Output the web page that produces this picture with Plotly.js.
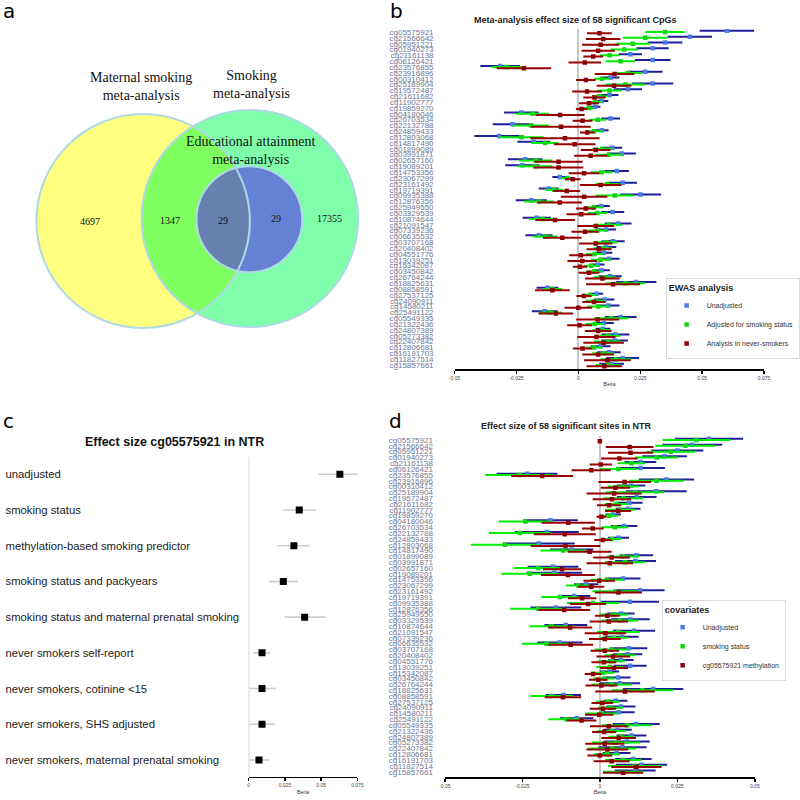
<!DOCTYPE html>
<html><head><meta charset="utf-8">
<script src="https://cdn.plot.ly/plotly-3.0.1.min.js"></script>
<style>html,body{margin:0;padding:0;background:#fff}#chart{width:800px;height:800px}</style>
</head><body><div id="chart"></div>
<script>
// ---------- data ----------
const cpgs = ["cg05575921","cg21566642","cg05951221","cg01940273","cg21161138","cg06126421","cg23576855","cg23916896","cg00310412","cg25189904",
"cg19572487","cg21611682","cg11902777","cg19859270","cg04180046","cg26703534","cg22132788","cg24859433","cg12803068","cg14817490",
"cg01899089","cg03991871","cg02657160","cg19089201","cg14753356","cg23067299","cg23161492","cg19719391","cg09935388","cg12876356",
"cg25949550","cg03329539","cg10874644","cg21091547","cg07339236","cg06635532","cg03707168","cg20408402","cg04551776","cg13039251",
"cg15342087","cg03450842","cg26764244","cg18825631","cg08858591","cg27537125","cg24090911","cg14580211","cg25491122","cg05549335",
"cg21322436","cg24807389","cg05273382","cg22407842","cg12806681","cg16191703","cg11827514","cg15857661"];

// panel b: meta-analysis (beta, half-width of 95% CI)
const bUnadjBeta = [0.060,0.045,0.035,0.030,0.021,0.030,-0.0316,0.027,0.013,0.030,0.020,0.0126,0.0094,0.0067,-0.023,0.013,-0.0266,0.0095,-0.032,-0.018,0.0137,0.0175,-0.0215,-0.0226,0.0155,-0.0075,0.0179,-0.012,0.0251,-0.019,0.0093,0.0138,-0.0168,0.0161,0.0112,-0.0159,0.014,0.0113,0.0102,0.0124,0.0078,0.0093,0.0128,0.0233,-0.0125,0.0073,0.0106,0.0121,-0.0136,0.0171,0.0103,0.0099,0.015,0.0146,0.009,0.0124,0.0179,0.0134];
const bUnadjCI = [0.011,0.009,0.007,0.0065,0.0047,0.0072,0.008,0.007,0.0036,0.0083,0.0057,0.0036,0.0027,0.0022,0.007,0.0038,0.008,0.0027,0.010,0.0066,0.004,0.0057,0.007,0.0069,0.0049,0.003,0.0058,0.004,0.0083,0.0063,0.0034,0.0047,0.0057,0.0054,0.004,0.0055,0.0047,0.004,0.0035,0.0043,0.0028,0.0034,0.0047,0.0082,0.0044,0.0027,0.004,0.0045,0.0052,0.0064,0.004,0.003,0.0056,0.0054,0.004,0.0047,0.0066,0.005];
const bSmokeBeta = [0.035,0.027,0.022,0.0185,0.0126,0.017,-0.029,0.020,0.0095,0.019,0.0126,0.0085,0.007,0.0043,-0.0185,0.0078,-0.019,0.0063,-0.023,-0.0134,0.0097,0.0124,-0.0172,-0.0175,0.0094,-0.0044,0.0117,-0.0098,0.0147,-0.0159,0.0063,0.0077,-0.0145,0.0124,0.0077,-0.0134,0.0109,0.0099,0.0066,0.009,0.0052,0.0063,0.0106,0.019,-0.0105,0.0046,0.007,0.008,-0.0113,0.0133,0.0066,0.0094,0.012,0.0117,0.0063,0.01,0.0152,0.0117];
const bSmokeCI = [0.008,0.009,0.007,0.0056,0.004,0.006,0.006,0.0057,0.003,0.008,0.005,0.003,0.0025,0.002,0.0067,0.0034,0.007,0.0034,0.009,0.0054,0.004,0.0054,0.0067,0.007,0.0044,0.0027,0.0047,0.0037,0.0077,0.006,0.0034,0.004,0.0054,0.0054,0.004,0.005,0.0048,0.0038,0.0037,0.004,0.003,0.0033,0.0044,0.008,0.004,0.0027,0.004,0.0044,0.0046,0.007,0.0037,0.0037,0.005,0.0054,0.0034,0.0044,0.0063,0.0047];
const bNeverBeta = [0.0085,0.010,0.009,0.008,0.006,0.0026,-0.022,0.0146,0.003,0.0144,0.0035,0.0065,0.0043,0.0013,-0.0074,0.0017,-0.007,0.0036,-0.0054,-0.0015,0.007,0.005,-0.008,-0.008,0.0023,-0.0023,0.009,-0.0047,0.0023,-0.0075,0.003,0.0012,-0.0094,0.007,0.0027,-0.0065,0.007,0.0083,0.001,0.0016,0.0007,0.0043,0.0097,0.014,-0.0105,0.0022,0.0063,0.0,-0.0091,0.0078,0.0005,0.008,0.0073,0.0102,0.0017,0.008,0.0117,0.0105];
const bNeverCI = [0.005,0.007,0.0075,0.0067,0.004,0.0066,0.011,0.008,0.004,0.007,0.006,0.0045,0.004,0.0023,0.0099,0.004,0.012,0.003,0.014,0.0084,0.006,0.0067,0.0097,0.010,0.0062,0.0032,0.0084,0.0054,0.0094,0.009,0.004,0.006,0.008,0.0074,0.0055,0.0078,0.0067,0.005,0.0047,0.006,0.0029,0.0042,0.007,0.0109,0.007,0.003,0.0047,0.0056,0.007,0.0087,0.005,0.0054,0.0077,0.0082,0.0039,0.0064,0.0094,0.0072];

// panel d: NTR
const dUnadjBeta = [0.0352,0.0298,0.025,0.0209,0.0131,0.0131,-0.0235,0.0215,0.0101,0.0182,0.0119,0.0095,0.0091,0.0043,-0.0159,0.0078,-0.0171,0.006,-0.0197,-0.0091,0.0118,0.0115,-0.0151,-0.0147,0.0075,-0.0044,0.013,-0.0083,0.0097,-0.0142,0.0068,0.0099,-0.011,0.011,0.0071,-0.0129,0.0094,0.009,0.0068,0.0098,0.0031,0.0059,0.0065,0.0172,-0.0118,0.0051,0.0068,0.0061,-0.0075,0.0117,0.0057,0.0102,0.0087,0.0073,0.0054,0.0108,0.0134,0.0114];
const dUnadjCI = [0.011,0.0097,0.0084,0.0072,0.0051,0.0079,0.0098,0.0089,0.0046,0.0098,0.0064,0.0043,0.004,0.0025,0.0088,0.0043,0.0103,0.0034,0.0116,0.007,0.0054,0.0066,0.0082,0.009,0.0056,0.0039,0.0079,0.0052,0.0094,0.0082,0.0044,0.0062,0.0069,0.0068,0.0054,0.0073,0.0059,0.0047,0.0041,0.0053,0.0031,0.004,0.0065,0.0097,0.0057,0.0038,0.0047,0.0051,0.0054,0.0076,0.0046,0.0048,0.0074,0.0078,0.0045,0.0059,0.0083,0.0066];
const dSmokeBeta = [0.0312,0.0276,0.0229,0.0184,0.0102,0.006,-0.026,0.0183,0.0075,0.0113,0.0076,0.0054,0.0065,0.003,-0.024,0.0048,-0.0258,0.0038,-0.0306,-0.0118,0.0075,0.0081,-0.0199,-0.0226,0.0023,-0.007,0.005,-0.0129,-0.0022,-0.0199,0.0046,0.0065,-0.0156,0.006,0.0045,-0.0172,0.0038,0.0065,0.0038,0.0032,0.0011,0.0013,0.0038,0.0137,-0.0156,0.0027,0.0034,0.0005,-0.0108,0.0088,0.0038,0.0068,0.0052,0.004,0.0023,0.0075,0.0113,0.0075];
const dSmokeCI = [0.0109,0.0097,0.0078,0.0069,0.0045,0.006,0.011,0.0089,0.005,0.0094,0.0065,0.0038,0.0048,0.0028,0.0086,0.0043,0.01,0.003,0.011,0.0074,0.0052,0.0065,0.0078,0.0092,0.0053,0.0039,0.0074,0.006,0.0084,0.009,0.0046,0.0059,0.0071,0.0069,0.0047,0.008,0.0054,0.0049,0.0043,0.0043,0.0036,0.0035,0.0065,0.0099,0.0069,0.0038,0.004,0.0052,0.0058,0.0081,0.0046,0.004,0.0078,0.0078,0.0042,0.0059,0.0086,0.0065];
const dMethBeta = [0.0,0.0096,0.0099,0.0063,0.0003,-0.0028,-0.0186,0.008,0.005,0.0046,0.0039,0.003,0.0059,0.0005,-0.0102,-0.0023,-0.0113,0.001,-0.0111,-0.0033,0.0038,0.0032,-0.0122,-0.0103,-0.0002,-0.0028,0.006,-0.0057,-0.0038,-0.0115,0.0024,0.0029,-0.0096,0.0018,0.0016,-0.0094,0.0016,0.0043,0.0013,0.0046,-0.0022,-0.0005,0.0005,0.0081,-0.0119,0.0008,0.001,-0.0002,-0.0059,0.0029,0.0014,0.0061,0.0016,0.0024,0.0,0.0038,0.0118,0.0075];
const dMethCI = [0.0002,0.0077,0.0073,0.0059,0.0036,0.0063,0.01,0.0085,0.0047,0.0089,0.0062,0.0039,0.0042,0.0016,0.0086,0.0035,0.01,0.0028,0.0112,0.0071,0.0059,0.0075,0.0062,0.0087,0.0051,0.0042,0.0076,0.0046,0.0058,0.0083,0.004,0.0062,0.0071,0.0067,0.0051,0.0072,0.0046,0.0054,0.004,0.0045,0.0027,0.003,0.0051,0.0096,0.0059,0.0035,0.0043,0.0046,0.0048,0.0061,0.0039,0.0056,0.0063,0.0067,0.004,0.0058,0.0081,0.0065];

// panel c: cg05575921 in NTR
const cModels = ["unadjusted","smoking status","methylation-based smoking predictor","smoking status and packyears",
"smoking status and maternal prenatal smoking","never smokers self-report","never smokers, cotinine <15",
"never smokers, SHS adjusted","never smokers, maternal prenatal smoking"];
const cBeta = [0.0629,0.0349,0.0312,0.0239,0.0386,0.0092,0.0092,0.0092,0.0071];
const cLow  = [0.048,0.0239,0.0202,0.0142,0.0248,0.0032,0.0005,0.0005,0.0005];
const cHigh = [0.0778,0.0464,0.0422,0.034,0.0532,0.0149,0.0188,0.0184,0.0142];

// panel a: Venn counts
const vennSetNames = ["Maternal smoking<br>meta-analysis","Smoking<br>meta-analysis","Educational attainment<br>meta-analysis"];
const vennRegions = ["maternal only","maternal & smoking","all three","smoking & education","smoking only"];
const vennCounts = [4697, 1347, 29, 29, 17355];

// tick labels
const bTicks = [-0.05,-0.025,0,0.025,0.05,0.075];
const bTickText = ["-0.05","-0.025","0","0.025","0.05","0.075"];
const dTicks = [-0.05,-0.025,0,0.025,0.05];
const dTickText = ["-0.05","-0.025","0","0.025","0.05"];
const cTicks = [0,0.025,0.05,0.075];
const cTickText = ["0","0.025","0.05","0.075"];

// ---------- helpers ----------
const W = 800;
const X = p => p / W;
const Y = p => 1 - p / W;
const rows = cpgs.map((_, i) => i + 1);
const cRows = cModels.map((_, i) => i + 1);
const DODGE = 0.2;

const COL = {
  blueBar:'#1f1f99', bluePt:'#4a7de6',
  greenBar:'#00ee00', greenPt:'#12d612',
  redBar:'#990000', redPt:'#8b0000'
};

function series(xs, ci, off, name, bar, pt, xa, ya, leg) {
  return {
    type:'scatter', mode:'markers', name:name, legend:leg,
    x: xs, y: rows.map(r => r + off), xaxis: xa, yaxis: ya,
    marker:{symbol:'square', size:4.5, color:pt},
    error_x:{type:'data', symmetric:true, array:ci, visible:true, color:bar, thickness:2, width:0},
    hoverinfo:'skip'
  };
}

const traces = [
  series(bUnadjBeta, bUnadjCI, -DODGE, 'Unadjusted', COL.blueBar, COL.bluePt, 'x', 'y', 'legend'),
  series(bSmokeBeta, bSmokeCI, 0, 'Adjusted for smoking status', COL.greenBar, COL.greenPt, 'x', 'y', 'legend'),
  series(bNeverBeta, bNeverCI, DODGE, 'Analysis in never-smokers', COL.redBar, COL.redPt, 'x', 'y', 'legend'),
  series(dUnadjBeta, dUnadjCI, -DODGE, 'Unadjusted', COL.blueBar, COL.bluePt, 'x2', 'y2', 'legend2'),
  series(dSmokeBeta, dSmokeCI, 0, 'smoking status', COL.greenBar, COL.greenPt, 'x2', 'y2', 'legend2'),
  series(dMethBeta, dMethCI, DODGE, 'cg05575921 methylation', COL.redBar, COL.redPt, 'x2', 'y2', 'legend2'),
  {
    type:'scatter', mode:'markers', showlegend:false, xaxis:'x3', yaxis:'y3',
    x: cBeta, y: cRows,
    marker:{symbol:'square', size:7, color:'#000'},
    error_x:{type:'data', symmetric:false, array:cHigh.map((h,i)=>h-cBeta[i]),
             arrayminus:cLow.map((l,i)=>cBeta[i]-l), visible:true, color:'#cccccc', thickness:1.6, width:0},
    hoverinfo:'skip'
  }
];

// ---------- Venn geometry (panel a, pixel space) ----------
const cMat = {cx:143.5, cy:221, r:107};
const cSmk = {cx:250.5, cy:218.5, r:108.5};
const cEdu = {cx:250, cy:219.2, r:53};
const VENN = {yellow:'#ffff80', green:'#80ffaa', overlap:'#80ff60', blue:'#6680d4', darkBlue:'#6680b0', edge:'#add8e6'};

function circleShape(c, fill, line) {
  return {type:'circle', xref:'paper', yref:'paper', layer:'above',
    x0:X(c.cx-c.r), x1:X(c.cx+c.r), y0:Y(c.cy+c.r), y1:Y(c.cy-c.r),
    fillcolor:fill, line:line};
}
function lensShape(A, B, fill) {
  const dx = B.cx-A.cx, dy = B.cy-A.cy, d = Math.hypot(dx,dy), th = Math.atan2(dy,dx);
  const a = Math.acos((d*d + A.r*A.r - B.r*B.r)/(2*d*A.r));
  const b = Math.acos((d*d + B.r*B.r - A.r*A.r)/(2*d*B.r));
  const n = 90, pts = [];
  for (let i=0;i<=n;i++){const t=th-a+2*a*i/n; pts.push([A.cx+A.r*Math.cos(t), A.cy+A.r*Math.sin(t)]);}
  const th2 = th+Math.PI;
  for (let i=0;i<=n;i++){const t=th2-b+2*b*i/n; pts.push([B.cx+B.r*Math.cos(t), B.cy+B.r*Math.sin(t)]);}
  const path = 'M' + pts.map(p => X(p[0]).toFixed(5)+','+Y(p[1]).toFixed(5)).join('L') + 'Z';
  return {type:'path', xref:'paper', yref:'paper', layer:'above', path:path, fillcolor:fill, line:{width:0}};
}
const noLine = {width:0};
const edgeLine = {color:VENN.edge, width:2};
const shapes = [
  circleShape(cMat, VENN.yellow, noLine),
  circleShape(cSmk, VENN.green, noLine),
  lensShape(cMat, cSmk, VENN.overlap),
  circleShape(cEdu, VENN.blue, noLine),
  lensShape(cMat, cEdu, VENN.darkBlue),
  circleShape(cMat, 'rgba(0,0,0,0)', edgeLine),
  circleShape(cSmk, 'rgba(0,0,0,0)', edgeLine),
  circleShape(cEdu, 'rgba(0,0,0,0)', edgeLine),
  {type:'line', xref:'x3', yref:'y3 domain', x0:0, x1:0, y0:0, y1:1, layer:'below', line:{color:'#c8c8c8', width:1.5}}
];

// ---------- annotations ----------
const serif = 'Liberation Serif, Times New Roman, serif';
const sans = 'Liberation Sans, Arial, sans-serif';
const vennSetPos = [[141.7,86.7],[251.7,85],[251.5,150.7]];
const vennCountPos = [[90.7,221.7],[170,220.7],[223.3,220],[276.7,219],[330,218.3]];
const annotations = [];
function ann(text, x, y, font, xanchor) {
  annotations.push({text:text, x:X(x), y:Y(y), xref:'paper', yref:'paper', showarrow:false,
    xanchor:xanchor||'center', yanchor:'middle', font:font});
}
[['a',1,11],['b',389,11],['c',1,421],['d',388,421]].forEach(p =>
  ann(p[0], p[1], p[2], {family:'DejaVu Sans, sans-serif', size:20, color:'#000'}, 'left'));
vennSetNames.forEach((t,i) => ann(t, vennSetPos[i][0], vennSetPos[i][1], {family:serif, size:14, color:'#111'}));
vennCounts.forEach((v,i) => ann(String(v), vennCountPos[i][0], vennCountPos[i][1], {family:serif, size:10, color:'#111'}));
ann('<b>Meta-analysis effect size of 58 significant CpGs</b>', 577, 19.5, {family:sans, size:9, color:'#222'});
ann('<b>Effect size of 58 significant sites in NTR</b>', 567.5, 426, {family:sans, size:9, color:'#222'});
ann('<b>Effect size cg05575921 in NTR</b>', 175, 441.7, {family:sans, size:12.5, color:'#111'});

// ---------- axes ----------
function betaAxis(dom, anchor, range, tv, tt) {
  return {domain:dom, anchor:anchor, range:range, tickvals:tv, ticktext:tt, showgrid:false,
    zeroline:false, showline:true, linecolor:'#000', linewidth:2, ticks:'outside', ticklen:3,
    tickwidth:1.5, tickcolor:'#000', tickfont:{family:sans, size:5, color:'#444'},
    title:{text:'Beta', font:{family:sans, size:6, color:'#444'}, standoff:2}, fixedrange:true};
}
function cpgAxis(dom, anchor, range, standoff) {
  return {domain:dom, anchor:anchor, range:range, tickvals:rows, ticktext:cpgs, showgrid:false,
    zeroline:false, showline:false, ticks:'', tickfont:{family:sans, size:8, color:'#6f7896'},
    ticklabelstandoff:standoff, fixedrange:true};
}

const xb = betaAxis([X(455.7),X(766)], 'y', [-0.05,0.075], bTicks, bTickText);
xb.zeroline = true; xb.zerolinecolor = '#c8c8c8'; xb.zerolinewidth = 2;
const xd = betaAxis([X(446),X(756.7)], 'y2', [-0.05,0.05], dTicks, dTickText);
xd.zeroline = true; xd.zerolinecolor = '#c8c8c8'; xd.zerolinewidth = 2;
const xc = betaAxis([X(249.3),X(358.3)], 'y3', [0,0.075], cTicks, cTickText);
xc.linewidth = 1.3;

const layout = {
  width:800, height:800, margin:{l:0,r:0,t:0,b:0}, paper_bgcolor:'#fff', plot_bgcolor:'rgba(0,0,0,0)',
  font:{family:sans, color:'#333'}, showlegend:true,
  xaxis: xb,
  yaxis: cpgAxis([Y(369.3),Y(29)], 'x', [58.74,0.486], 20),
  xaxis2: xd,
  yaxis2: cpgAxis([Y(776.7),Y(436)], 'x2', [58.86,0.313], 11),
  xaxis3: xc,
  yaxis3: {domain:[Y(776.7),Y(456.7)], anchor:'free', position:X(1.5), range:[9.468,0.507],
    tickvals:cRows, ticktext:cModels, ticklabelposition:'inside', ticklabeloverflow:'allow',
    showgrid:false, zeroline:false, showline:false, ticks:'', tickfont:{family:sans, size:11.3, color:'#222'}, fixedrange:true},
  legend: {x:X(667.3), y:Y(278.3), xanchor:'left', yanchor:'top', bgcolor:'#fff', bordercolor:'#d9d9d9', borderwidth:1,
    font:{family:sans, size:7, color:'#333'}, itemsizing:'trace', traceorder:'normal',
    title:{text:'<b>EWAS analysis</b>', font:{family:sans, size:9, color:'#222'}}},
  legend2: {x:X(663.3), y:Y(600), xanchor:'left', yanchor:'top', bgcolor:'#fff', bordercolor:'#d9d9d9', borderwidth:1,
    font:{family:sans, size:7, color:'#333'}, itemsizing:'trace', traceorder:'normal',
    title:{text:'<b>covariates</b>', font:{family:sans, size:9, color:'#222'}}},
  shapes: shapes,
  annotations: annotations
};

Plotly.newPlot('chart', traces, layout, {staticPlot:true, displayModeBar:false});
</script>
</body></html>
